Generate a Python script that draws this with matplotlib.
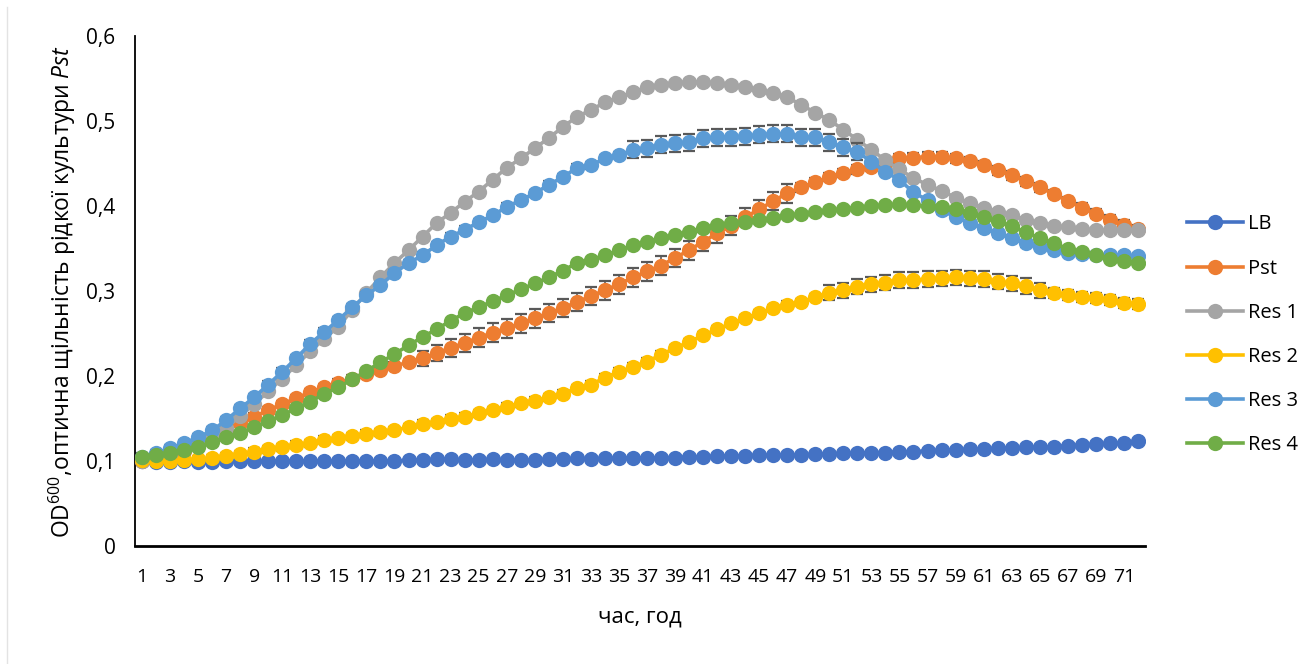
import matplotlib
matplotlib.use("Agg")
from matplotlib import pyplot as plt
from matplotlib.lines import Line2D

plt.rcParams['font.family'] = ['Open Sans', 'DejaVu Sans']
plt.rcParams['mathtext.fontset'] = 'custom'
plt.rcParams['mathtext.rm'] = 'Open Sans'
plt.rcParams['mathtext.it'] = 'Open Sans:italic'

hours = list(range(1, 73))

lb = [0.100, 0.099, 0.099, 0.100, 0.099, 0.099, 0.100, 0.100, 0.100, 0.100, 0.100, 0.100,
      0.100, 0.100, 0.100, 0.100, 0.100, 0.100, 0.100, 0.101, 0.101, 0.102, 0.102, 0.101,
      0.101, 0.102, 0.101, 0.101, 0.101, 0.102, 0.102, 0.103, 0.102, 0.103, 0.103, 0.104,
      0.103, 0.104, 0.104, 0.105, 0.105, 0.106, 0.106, 0.106, 0.107, 0.107, 0.107, 0.107,
      0.108, 0.108, 0.109, 0.109, 0.110, 0.110, 0.111, 0.111, 0.112, 0.113, 0.113, 0.114,
      0.114, 0.115, 0.115, 0.116, 0.116, 0.117, 0.118, 0.119, 0.120, 0.121, 0.121, 0.123]

pst = [0.100, 0.103, 0.107, 0.112, 0.119, 0.127, 0.136, 0.145, 0.152, 0.160, 0.167, 0.174,
       0.181, 0.187, 0.192, 0.197, 0.202, 0.207, 0.212, 0.216, 0.221, 0.227, 0.233, 0.239,
       0.245, 0.251, 0.256, 0.262, 0.268, 0.274, 0.280, 0.287, 0.294, 0.301, 0.308, 0.316,
       0.323, 0.330, 0.339, 0.348, 0.358, 0.368, 0.377, 0.387, 0.396, 0.406, 0.415, 0.422,
       0.428, 0.434, 0.439, 0.443, 0.446, 0.451, 0.456, 0.457, 0.458, 0.458, 0.456, 0.453,
       0.448, 0.442, 0.436, 0.429, 0.422, 0.414, 0.406, 0.398, 0.391, 0.384, 0.378, 0.373]

res1 = [0.100, 0.103, 0.108, 0.114, 0.121, 0.129, 0.139, 0.153, 0.167, 0.182, 0.197, 0.213,
        0.229, 0.244, 0.258, 0.278, 0.298, 0.316, 0.333, 0.348, 0.364, 0.380, 0.392, 0.405,
        0.417, 0.431, 0.445, 0.456, 0.468, 0.480, 0.493, 0.505, 0.513, 0.522, 0.528, 0.534,
        0.540, 0.543, 0.545, 0.546, 0.546, 0.545, 0.543, 0.540, 0.536, 0.533, 0.528, 0.519,
        0.510, 0.501, 0.490, 0.478, 0.466, 0.454, 0.443, 0.433, 0.425, 0.418, 0.410, 0.404,
        0.398, 0.393, 0.389, 0.384, 0.380, 0.377, 0.375, 0.373, 0.372, 0.372, 0.372, 0.372]

res2 = [0.101, 0.100, 0.100, 0.101, 0.102, 0.103, 0.106, 0.108, 0.111, 0.114, 0.116, 0.119,
        0.121, 0.125, 0.127, 0.129, 0.132, 0.134, 0.136, 0.140, 0.144, 0.146, 0.150, 0.152,
        0.156, 0.160, 0.164, 0.168, 0.171, 0.175, 0.179, 0.186, 0.190, 0.198, 0.205, 0.211,
        0.217, 0.225, 0.233, 0.240, 0.248, 0.255, 0.262, 0.268, 0.274, 0.280, 0.284, 0.287,
        0.293, 0.298, 0.301, 0.305, 0.308, 0.310, 0.313, 0.313, 0.314, 0.315, 0.316, 0.315,
        0.314, 0.311, 0.309, 0.306, 0.301, 0.298, 0.295, 0.293, 0.292, 0.289, 0.286, 0.285]

res3 = [0.105, 0.109, 0.115, 0.121, 0.128, 0.136, 0.148, 0.162, 0.175, 0.190, 0.205, 0.221,
        0.238, 0.252, 0.266, 0.281, 0.295, 0.307, 0.321, 0.333, 0.342, 0.354, 0.364, 0.372,
        0.381, 0.389, 0.399, 0.407, 0.415, 0.425, 0.434, 0.445, 0.448, 0.456, 0.460, 0.466,
        0.468, 0.472, 0.474, 0.475, 0.480, 0.481, 0.481, 0.482, 0.484, 0.485, 0.485, 0.481,
        0.481, 0.475, 0.469, 0.464, 0.452, 0.440, 0.431, 0.416, 0.407, 0.395, 0.387, 0.380,
        0.374, 0.368, 0.362, 0.356, 0.352, 0.348, 0.345, 0.344, 0.342, 0.342, 0.342, 0.341]

res4 = [0.105, 0.107, 0.110, 0.113, 0.117, 0.122, 0.128, 0.133, 0.140, 0.147, 0.154, 0.162,
        0.170, 0.179, 0.187, 0.196, 0.206, 0.216, 0.226, 0.236, 0.246, 0.255, 0.265, 0.274,
        0.281, 0.288, 0.295, 0.302, 0.309, 0.316, 0.324, 0.333, 0.337, 0.342, 0.348, 0.354,
        0.358, 0.362, 0.366, 0.370, 0.374, 0.378, 0.380, 0.381, 0.384, 0.386, 0.389, 0.391,
        0.393, 0.395, 0.397, 0.398, 0.400, 0.401, 0.402, 0.401, 0.400, 0.399, 0.397, 0.392,
        0.387, 0.382, 0.376, 0.369, 0.362, 0.356, 0.350, 0.346, 0.342, 0.338, 0.335, 0.333]

# standard deviations (only the larger ones stick out of the markers)
pst_err = [0.004, 0.004, 0.004, 0.004, 0.004, 0.004, 0.004, 0.004, 0.004, 0.004, 0.004, 0.004,
           0.004, 0.004, 0.004, 0.004, 0.004, 0.004, 0.004, 0.004, 0.009, 0.009, 0.011, 0.011,
           0.011, 0.011, 0.011, 0.011, 0.011, 0.011, 0.011, 0.011, 0.011, 0.011, 0.011, 0.011,
           0.011, 0.011, 0.011, 0.011, 0.011, 0.011, 0.011, 0.011, 0.011, 0.011, 0.011, 0.005,
           0.005, 0.005, 0.005, 0.005, 0.005, 0.005, 0.005, 0.005, 0.005, 0.005, 0.005, 0.005,
           0.005, 0.005, 0.005, 0.005, 0.005, 0.005, 0.005, 0.005, 0.005, 0.005, 0.005, 0.005]

res2_err = [0.004, 0.004, 0.004, 0.004, 0.004, 0.004, 0.004, 0.004, 0.004, 0.004, 0.004, 0.004,
            0.004, 0.004, 0.004, 0.004, 0.004, 0.004, 0.004, 0.004, 0.004, 0.004, 0.004, 0.004,
            0.004, 0.004, 0.004, 0.004, 0.004, 0.004, 0.004, 0.004, 0.004, 0.004, 0.004, 0.004,
            0.004, 0.004, 0.004, 0.004, 0.004, 0.004, 0.004, 0.004, 0.004, 0.004, 0.004, 0.004,
            0.004, 0.009, 0.009, 0.009, 0.009, 0.009, 0.009, 0.009, 0.009, 0.009, 0.009, 0.009,
            0.009, 0.009, 0.009, 0.009, 0.009, 0.006, 0.006, 0.006, 0.006, 0.006, 0.006, 0.006]

res3_err = [0.004, 0.004, 0.004, 0.004, 0.004, 0.004, 0.004, 0.004, 0.004, 0.004, 0.004, 0.004,
            0.004, 0.004, 0.004, 0.004, 0.004, 0.004, 0.004, 0.004, 0.004, 0.004, 0.004, 0.004,
            0.004, 0.004, 0.004, 0.004, 0.004, 0.004, 0.004, 0.004, 0.004, 0.004, 0.004, 0.010,
            0.010, 0.010, 0.010, 0.010, 0.010, 0.010, 0.010, 0.010, 0.010, 0.010, 0.010, 0.010,
            0.010, 0.010, 0.010, 0.010, 0.004, 0.004, 0.004, 0.004, 0.004, 0.004, 0.004, 0.004,
            0.004, 0.004, 0.004, 0.004, 0.004, 0.004, 0.004, 0.004, 0.004, 0.004, 0.004, 0.004]

series = [
    ("LB", lb, None, "#4472C4"),
    ("Pst", pst, pst_err, "#ED7D31"),
    ("Res 1", res1, None, "#A5A5A5"),
    ("Res 2", res2, res2_err, "#FFC000"),
    ("Res 3", res3, res3_err, "#5B9BD5"),
    ("Res 4", res4, None, "#70AD47"),
]

y_ticks = [0, 0.1, 0.2, 0.3, 0.4, 0.5, 0.6]
y_tick_labels = ["0", "0,1", "0,2", "0,3", "0,4", "0,5", "0,6"]
x_ticks = hours[::2]

fig = plt.figure(figsize=(13.13, 6.64), dpi=100)
ax = fig.add_axes([0.1028, 0.1777, 0.7692, 0.768])

z = 2
for name, vals, err, color in series:
    if err is not None:
        ax.errorbar(hours, vals, yerr=err, fmt="none", ecolor="#595959",
                    elinewidth=1.2, capsize=4.5, capthick=1.6, zorder=z)
    ax.plot(hours, vals, color=color, linewidth=2.6, marker="o", markersize=11,
            markeredgewidth=0, label=name, zorder=z + 0.5)
    z += 1

ax.set_xlim(0.5, 72.5)
ax.set_ylim(0, 0.6)
ax.set_yticks(y_ticks)
ax.set_yticklabels(y_tick_labels)
ax.set_xticks(x_ticks)
ax.set_xticklabels([str(h) for h in x_ticks])
ax.tick_params(axis="both", length=0)
ax.tick_params(axis="x", pad=16, labelsize=14)
ax.tick_params(axis="y", pad=14, labelsize=15)

for side in ("top", "right"):
    ax.spines[side].set_visible(False)
ax.spines["left"].set_linewidth(1.3)
ax.spines["bottom"].set_linewidth(2)

ax.set_ylabel(r"OD$^{600}$,оптична щільність рідкої культури $\it{Pst}$", fontsize=16.5)
ax.yaxis.set_label_coords(-0.056, 0.5)
ax.set_xlabel("час, год", fontsize=16, va="center")
ax.xaxis.set_label_coords(0.5, -0.139)

ax.legend(loc="center left", bbox_to_anchor=(1.0237, 0.414), frameon=False,
          fontsize=14.5, handlelength=2.8, handletextpad=0.24, labelspacing=1.2)

# thin grey frame edge on the left of the chart area
fig.add_artist(Line2D([0.0055, 0.0055], [0, 0.99], transform=fig.transFigure,
                      color="#E3E3E3", linewidth=1))

fig.savefig("out.png", dpi=100, facecolor="white")
